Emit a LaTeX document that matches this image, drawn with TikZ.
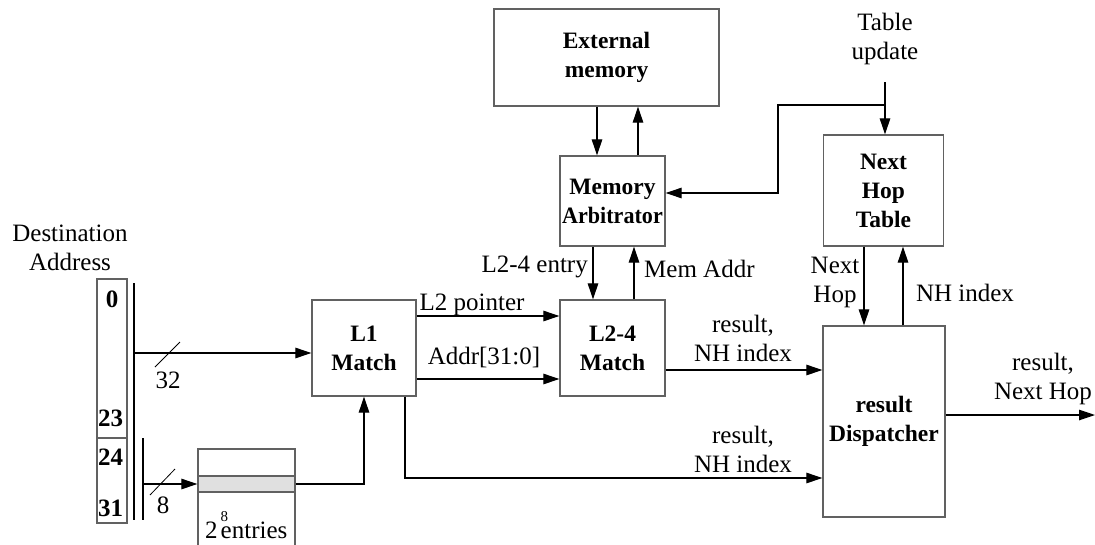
\documentclass[tikz,border=0pt]{standalone}
\usepackage{fontspec}
\setmainfont{Liberation Serif}
\usetikzlibrary{arrows.meta}

\begin{document}
\begin{tikzpicture}[x=1pt,y=-1pt,
  blk/.style={draw=black!62, line width=1.3pt, fill=white, inner sep=0pt,
              align=center, font=\bfseries\fontsize{23.5}{29}\selectfont},
  wire/.style={line width=1.2pt},
  arr/.style={wire, -{Triangle[length=16pt,width=10.5pt]}},
  lbl/.style={font=\fontsize{25}{29}\selectfont, align=center, inner sep=0pt},
  bit/.style={font=\bfseries\fontsize{25}{29}\selectfont, inner sep=0pt},
]
\useasboundingbox (0,0) rectangle (1095,544);

% ---- functional blocks ----
\node[blk, minimum width=225pt, minimum height=97pt] (ext)  at (606.5,57.5) {External\\memory};
\node[blk, minimum width=105pt, minimum height=90pt] (arb)  at (612.5,201)  {Memory\\\scalebox{0.94}[1]{Arbitrator}};
\node[blk, minimum width=104pt, minimum height=96pt] (l1)   at (364,348)    {L1\\Match};
\node[blk, minimum width=105pt, minimum height=96pt] (l24)  at (612.5,348)  {L2-4\\Match};
\node[blk, minimum width=120pt, minimum height=111pt] (nht) at (883.5,190.5) {Next\\Hop\\Table};
\node[blk, minimum width=122pt, minimum height=191pt] (disp) at (884,421.5) {result\\Dispatcher};

% ---- destination address register ----
\node[lbl] (dst) at (70,248) {Destination\\Address};
\node[draw=black!62, line width=1.3pt, minimum width=30pt, minimum height=244pt, inner sep=0pt] (addr) at (112,401) {};
\draw[draw=black!62, line width=1.3pt] (addr.west |- 0,438) -- (addr.east |- 0,438);
\node[bit] (b0)  at (112,299) {0};
\node[bit, anchor=west] (b23) at (98,418) {23};
\node[bit, anchor=west] (b24) at (98,457) {24};
\node[bit, anchor=west] (b31) at (98,508) {31};

% address buses
\coordinate (busA) at (134,283);
\coordinate (busB) at (143,438);
\draw[wire] (busA) -- (134,520);
\draw[wire] (busB) -- (143,520);

% ---- level-1 lookup table ----
\draw[draw=black!62, line width=1.3pt] (198,560) -- (198,449) -- (295,449) -- (295,560);
\node[draw=black!62, fill=black!12, line width=1.3pt, minimum width=97pt, minimum height=16pt, inner sep=0pt] (slot) at (246.5,484) {};
\node[lbl, anchor=base west] (ent) at (205,538) {2\hspace{3pt}\rlap{\raisebox{17pt}{\fontsize{15}{15}\selectfont 8}}entries};

% ---- connectors ----
\draw[arr] (134,353) -- (l1.west |- 0,353);
\draw[line width=0.8pt] (155,367) -- (180,342);
\node[lbl] (w32) at (168,380) {32};

\draw[arr] (143,484) -- (slot.west);
\draw[line width=0.8pt] (150,495) -- (175,469);
\node[lbl] (w8) at (163,505) {8};

\draw[arr] (slot.east) -| (l1.south);

\draw[arr] ([yshift=32pt]l1.east) -- ([yshift=32pt]l1.east -| l24.west);
\draw[arr] ([yshift=-31pt]l1.east) -- ([yshift=-31pt]l1.east -| l24.west);
\node[lbl, anchor=base] (lp) at (472,310) {L2 pointer};
\node[lbl, anchor=base] (la) at (484,364) {Addr[31:0]};

\draw[arr] ([xshift=-9.5pt]ext.south) -- ([xshift=-9.5pt]ext.south |- arb.north);
\draw[arr] ([xshift=31.5pt]ext.south |- arb.north) -- ([xshift=31.5pt]ext.south);

\draw[arr] ([xshift=-19.5pt]arb.south) -- ([xshift=-19.5pt]arb.south |- l24.north);
\draw[arr] ([xshift=21.5pt]arb.south |- l24.north) -- ([xshift=21.5pt]arb.south);
\node[lbl, anchor=base east] (le) at (588,272) {L2-4 entry};
\node[lbl, anchor=base west] (lm) at (644,277) {Mem Addr};

\draw[arr] ([yshift=-22pt]l24.east) -- ([yshift=-22pt]l24.east -| disp.west);
\node[lbl] (r1) at (743,338) {result,\\NH index};

\coordinate (lowbus) at (405,478);
\draw[arr] (lowbus |- l1.south) |- (disp.west |- lowbus);
\node[lbl] (r2) at (743,449) {result,\\NH index};

\node[lbl] (tu) at (885,39) {Table\\update};
\coordinate (tutop) at (885,82);
\coordinate (tusplit) at (885,105);
\draw[arr] (tutop) -- (tutop |- nht.north);
\draw[arr] (tusplit) -- (778,105) |- (arb.east |- 0,193);

\draw[arr] (864,0 |- nht.south) -- (864,0 |- disp.north);
\draw[arr] (903,0 |- disp.north) -- (903,0 |- nht.south);
\node[lbl] (nh) at (835,282) {Next\\Hop};
\node[lbl] (ni) at (965,293) {NH index};

\coordinate (out) at (1095,415);
\draw[arr] (disp.east |- out) -- (out);
\node[lbl] (ro) at (1043,379) {result,\\Next Hop};
\end{tikzpicture}
\end{document}
